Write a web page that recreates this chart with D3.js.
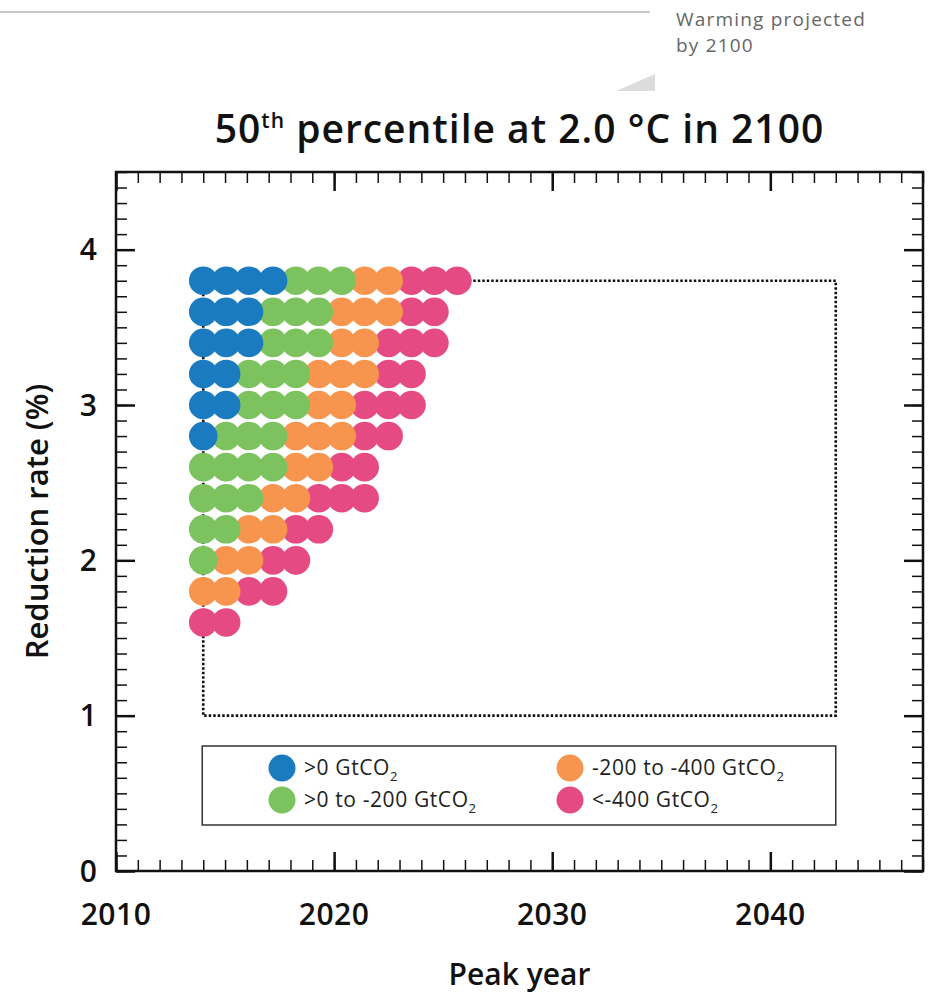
<!DOCTYPE html>
<html>
<head>
<meta charset="utf-8">
<script src="https://cdn.jsdelivr.net/npm/d3@7"></script>
<style>
  body { margin: 0; background: #fff; }
  svg { display: block; font-family: "Open Sans", sans-serif; }
</style>
</head>
<body>
<div id="chart"></div>
<script>
// reduction rate rows (%), top to bottom
var rates = [3.8, 3.6, 3.4, 3.2, 3.0, 2.8, 2.6, 2.4, 2.2, 2.0, 1.8, 1.6];
// peak year of each dot column
var peakYears = [2014, 2015.05, 2016.1, 2017.2, 2018.25, 2019.3, 2020.35, 2021.4, 2022.5, 2023.55, 2024.6, 2025.65];
// number of dots of each budget class in every row (left to right: blue, green, orange, pink)
var blueCounts   = [4, 3, 3, 2, 2, 1, 0, 0, 0, 0, 0, 0];
var greenCounts  = [3, 3, 3, 3, 3, 3, 4, 3, 2, 1, 0, 0];
var orangeCounts = [2, 3, 2, 3, 2, 3, 2, 2, 2, 2, 2, 0];
var pinkCounts   = [3, 2, 3, 2, 3, 2, 2, 3, 2, 2, 2, 2];

var classes = [">0 GtCO", ">0 to -200 GtCO", "-200 to -400 GtCO", "<-400 GtCO"];
var colors = ["#1b7bc0", "#7cc35f", "#f7954f", "#e54b82"];

// dotted envelope
var boxYears = [2014, 2043];
var boxRates = [1.0, 3.8];

var xTicks = [2010, 2020, 2030, 2040];
var yTicks = [0, 1, 2, 3, 4];

var W = 934, H = 993;
// plot frame (note: "top" is taken by window.top, so prefix these)
var pLeft = 116, pRight = 923, pTop = 172, pBottom = 871;

var svg = d3.select("#chart").append("svg")
    .attr("width", W).attr("height", H);

var x = d3.scaleLinear().domain([2010, 2047]).range([pLeft, pRight]);
var y = d3.scaleLinear().domain([0, 4.5]).range([pBottom, pTop]);

/* header bits cut off from the page above */
svg.append("line").attr("x1", 0).attr("x2", 650).attr("y1", 12).attr("y2", 12)
   .style("stroke", "#c8c8c8").style("stroke-width", 2);
svg.append("polygon").attr("points", "616,91 655,74 655,91").style("fill", "#dcdcdc");
svg.append("text").attr("x", 676).attr("y", 26).text("Warming projected")
   .style("font-size", "19px").style("letter-spacing", "1.2px").style("fill", "#666");
svg.append("text").attr("x", 676).attr("y", 52).text("by 2100")
   .style("font-size", "19px").style("letter-spacing", "1.2px").style("fill", "#666");

/* title */
var title = svg.append("text").attr("x", (pLeft + pRight) / 2).attr("y", 143)
   .attr("text-anchor", "middle").style("letter-spacing", "1px")
   .style("font-size", "39px").style("font-weight", 600).style("fill", "#111");
title.append("tspan").text("50");
title.append("tspan").text("th").style("font-size", "21px").attr("dy", -15);
title.append("tspan").text(" percentile at 2.0 °C in 2100").attr("dy", 15);

/* dots */
var dots = [];
rates.forEach(function(r, i) {
  var counts = [blueCounts[i], greenCounts[i], orangeCounts[i], pinkCounts[i]];
  var col = 0;
  counts.forEach(function(n, c) {
    for (var k = 0; k < n; k++) {
      dots.push({year: peakYears[col], rate: r, cls: c});
      col++;
    }
  });
});

// dotted envelope sits behind the dots
svg.append("rect")
   .attr("x", x(boxYears[0])).attr("y", y(boxRates[1]))
   .attr("width", x(boxYears[1]) - x(boxYears[0]))
   .attr("height", y(boxRates[0]) - y(boxRates[1]))
   .style("fill", "none").style("stroke", "#111").style("stroke-width", 2.6)
   .style("stroke-dasharray", "2.5,2");

// left-most dots end up on top
svg.append("g").selectAll("circle")
   .data(dots.slice().reverse())
   .enter().append("circle")
   .attr("cx", function(d) { return x(d.year); })
   .attr("cy", function(d) { return y(d.rate); })
   .attr("r", 14.3)
   .style("fill", function(d) { return colors[d.cls]; });

/* frame and ticks */
function tickAxis(axis, transform, values, size, width) {
  var g = svg.append("g").attr("transform", transform)
     .call(axis.tickValues(values).tickSize(-size).tickFormat(""));
  g.select(".domain").remove();
  g.selectAll("line").style("stroke", "#111").style("stroke-width", width);
}
var minorX = d3.range(2010, 2048);
var minorY = d3.range(0, 46).map(function(i) { return i / 10; });

tickAxis(d3.axisBottom(x), "translate(0," + pBottom + ")", minorX, 11, 1.5);
tickAxis(d3.axisTop(x), "translate(0," + pTop + ")", minorX, 11, 1.5);
tickAxis(d3.axisBottom(x), "translate(0," + pBottom + ")", xTicks, 19, 2.5);
tickAxis(d3.axisTop(x), "translate(0," + pTop + ")", xTicks, 19, 2.5);
tickAxis(d3.axisLeft(y), "translate(" + pLeft + ",0)", minorY, 11, 1.5);
tickAxis(d3.axisRight(y), "translate(" + pRight + ",0)", minorY, 11, 1.5);
tickAxis(d3.axisLeft(y), "translate(" + pLeft + ",0)", yTicks, 19, 2.5);
tickAxis(d3.axisRight(y), "translate(" + pRight + ",0)", yTicks, 19, 2.5);

svg.append("rect").attr("x", pLeft).attr("y", pTop)
   .attr("width", pRight - pLeft).attr("height", pBottom - pTop)
   .style("fill", "none").style("stroke", "#111").style("stroke-width", 2.5);

/* tick labels */
svg.append("g").selectAll("text").data(xTicks).enter().append("text")
   .attr("x", function(d) { return x(d); }).attr("y", pBottom + 54)
   .attr("text-anchor", "middle").text(function(d) { return d; })
   .style("font-size", "30px").style("font-weight", 600).style("fill", "#111")
   .style("letter-spacing", "0.5px");
svg.append("g").selectAll("text").data(yTicks).enter().append("text")
   .attr("x", pLeft - 19).attr("y", function(d) { return y(d); }).attr("dy", "0.36em")
   .attr("text-anchor", "end").text(function(d) { return d; })
   .style("font-size", "30px").style("font-weight", 600).style("fill", "#111");

/* axis titles */
svg.append("text").attr("x", (pLeft + pRight) / 2).attr("y", 985)
   .attr("text-anchor", "middle").text("Peak year")
   .style("font-size", "30px").style("font-weight", 600).style("fill", "#111");
svg.append("text").attr("transform", "translate(48," + (pTop + pBottom) / 2 + ") rotate(-90)")
   .attr("text-anchor", "middle").text("Reduction rate (%)")
   .style("font-size", "31px").style("font-weight", 600).style("fill", "#111");

/* legend */
svg.append("rect").attr("x", x(boxYears[0]) - 1).attr("y", 746)
   .attr("width", x(boxYears[1]) - x(boxYears[0]) + 1).attr("height", 79)
   .style("fill", "#fff").style("stroke", "#333").style("stroke-width", 1.5);

// blue/green in the first column, orange/pink in the second
var legend = svg.append("g").selectAll("g").data(classes).enter().append("g")
   .attr("transform", function(d, i) {
     var cx = i < 2 ? 282 : 570;
     var cy = i % 2 === 0 ? 768 : 800;
     return "translate(" + cx + "," + cy + ")";
   });
legend.append("circle").attr("r", 13.5)
   .style("fill", function(d, i) { return colors[i]; });
var lt = legend.append("text").attr("x", 22).attr("y", 7)
   .style("font-size", "21px").style("fill", "#222").style("letter-spacing", "0.6px");
lt.append("tspan").text(function(d) { return d; });
lt.append("tspan").text("2").style("font-size", "13px").attr("dy", 6);
</script>
</body>
</html>
